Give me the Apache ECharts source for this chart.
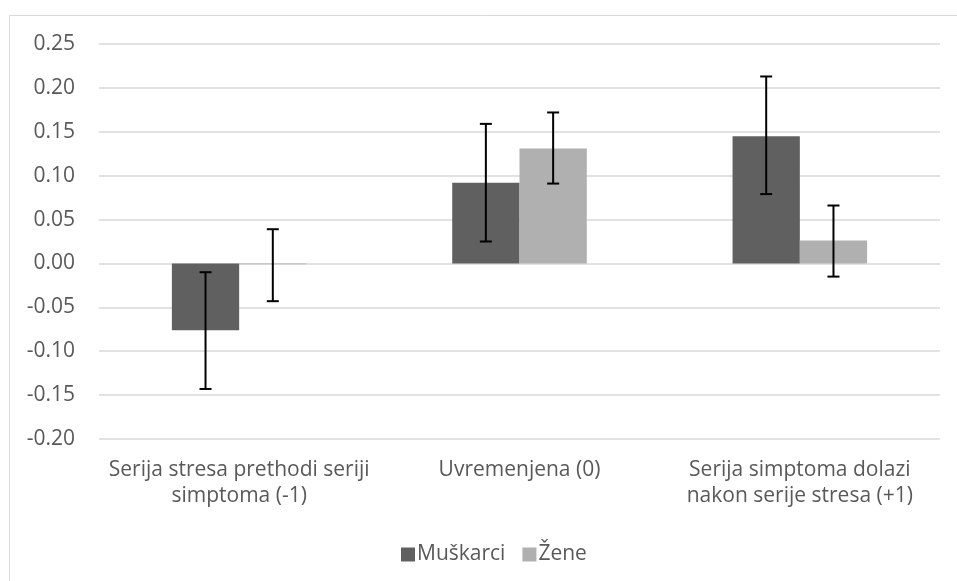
<!DOCTYPE html>
<html>
<head>
<meta charset="utf-8">
<style>
  html, body { margin: 0; padding: 0; background: #fff; }
  #chart { width: 957px; height: 581px; }
</style>
<script src="https://cdn.jsdelivr.net/npm/echarts@6/dist/echarts.min.js"></script>
</head>
<body>
<div id="chart"></div>
<script>
// categories and values
const categories = [
  'Serija stresa prethodi seriji\nsimptoma (-1)',
  'Uvremenjena (0)',
  'Serija simptoma dolazi\nnakon serije stresa (+1)'
]
const seriesNames = ['Muškarci', 'Žene']
const muskarci = [-0.076, 0.092, 0.145]
const zene = [-0.001, 0.131, 0.026]
const muskarciLow = [-0.143, 0.025, 0.079]
const muskarciHigh = [-0.010, 0.159, 0.213]
const zeneLow = [-0.043, 0.091, -0.015]
const zeneHigh = [0.039, 0.172, 0.066]

const colors = ['#606060', '#b0b0b0']
const fontFamily = '"Open Sans", "Noto Sans", sans-serif'
const catGap = 0.52

// error bars: [category, low, high, side]
const errData = []
categories.forEach((c, i) => {
  errData.push([i, muskarciLow[i], muskarciHigh[i], -1])
  errData.push([i, zeneLow[i], zeneHigh[i], 1])
})

const renderErr = (params, api) => {
  const i = api.value(0)
  const side = api.value(3)
  const bw = api.size([1, 0])[0]
  const off = side * bw * (1 - catGap) / 4
  const lo = api.coord([i, api.value(1)])
  const hi = api.coord([i, api.value(2)])
  const x = lo[0] + off
  const cap = 6
  const style = { stroke: '#000', lineWidth: 2, fill: null }
  return {
    type: 'group',
    children: [
      { type: 'line', shape: { x1: x, y1: lo[1], x2: x, y2: hi[1] }, style: style },
      { type: 'line', shape: { x1: x - cap, y1: lo[1], x2: x + cap, y2: lo[1] }, style: style },
      { type: 'line', shape: { x1: x - cap, y1: hi[1], x2: x + cap, y2: hi[1] }, style: style }
    ]
  }
}

const chart = echarts.init(document.getElementById('chart'), null, { renderer: 'canvas' })
const option = {
  backgroundColor: '#fff',
  animation: false,
  color: colors,
  textStyle: { fontFamily: fontFamily },
  graphic: [{
    type: 'rect',
    shape: { x: 9.5, y: 15.5, width: 1000, height: 1000 },
    style: { fill: null, stroke: '#d9d9d9', lineWidth: 1 },
    silent: true
  }],
  grid: { left: 99, right: 17, top: 44, bottom: 142 },
  legend: {
    data: seriesNames,
    left: 396,
    top: 539,
    itemWidth: 14,
    itemHeight: 14,
    itemGap: 17,
    icon: 'rect',
    textStyle: { color: '#595959', fontSize: 21, fontFamily: fontFamily, padding: [0, 0, 0, -3] }
  },
  xAxis: {
    type: 'category',
    data: categories,
    axisLine: { show: false },
    axisTick: { show: false },
    splitLine: { show: false },
    axisLabel: {
      color: '#595959',
      fontSize: 21,
      lineHeight: 26,
      margin: 18,
      interval: 0,
      fontFamily: fontFamily
    }
  },
  yAxis: {
    type: 'value',
    min: -0.2,
    max: 0.25,
    interval: 0.05,
    axisLine: { show: false },
    axisTick: { show: false },
    splitLine: { lineStyle: { color: '#d9d9d9', width: 1.5 } },
    axisLabel: {
      color: '#595959',
      fontSize: 21,
      margin: 24,
      fontFamily: fontFamily,
      formatter: v => v.toFixed(2)
    }
  },
  series: [
    {
      name: seriesNames[0],
      type: 'bar',
      data: muskarci,
      barGap: '0%',
      barCategoryGap: (catGap * 100) + '%',
      itemStyle: { color: colors[0] }
    },
    {
      name: seriesNames[1],
      type: 'bar',
      data: zene,
      itemStyle: { color: colors[1] }
    },
    {
      name: 'err',
      type: 'custom',
      renderItem: renderErr,
      data: errData,
      z: 10,
      silent: true
    }
  ]
}
chart.setOption(option)
</script>
</body>
</html>
